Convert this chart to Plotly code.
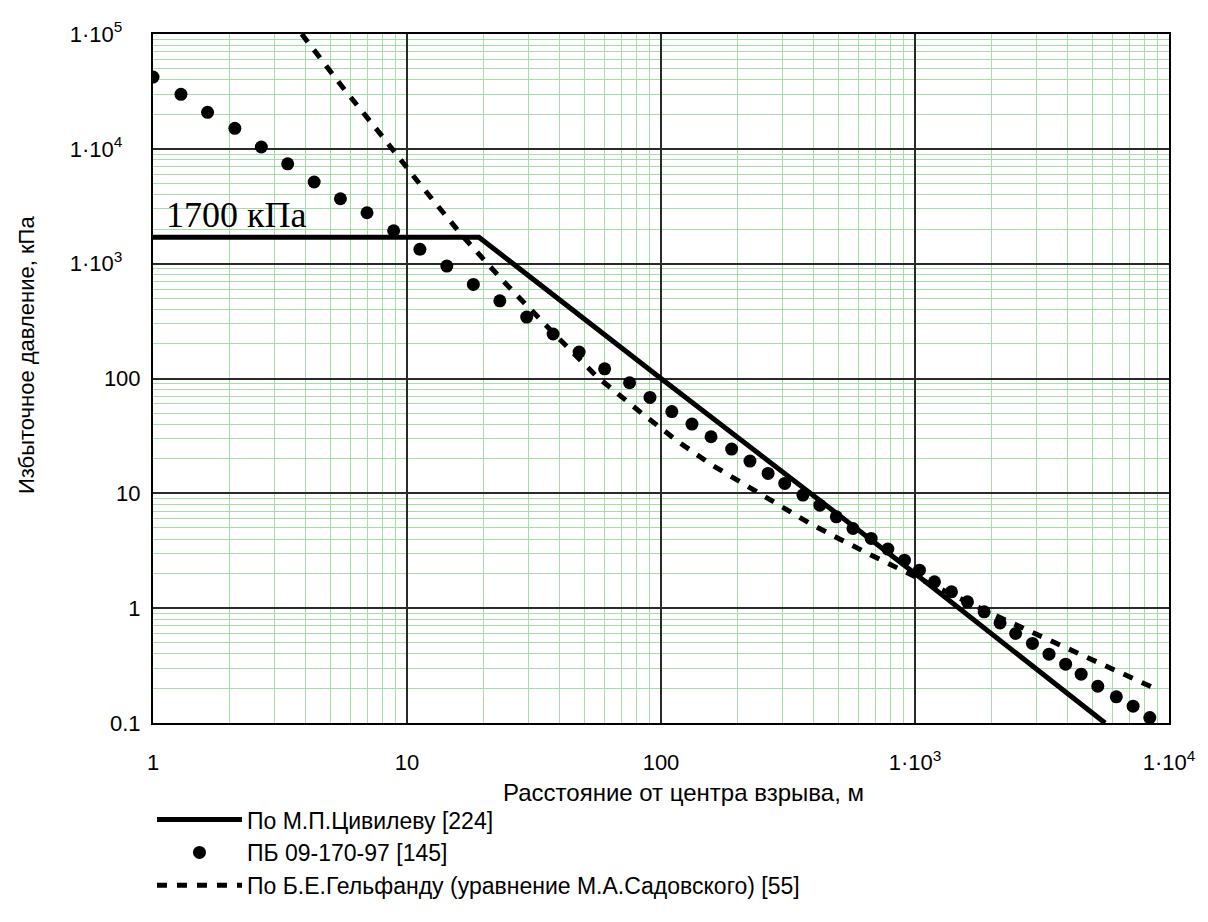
import plotly.graph_objects as go

# ---- data ----
civ_x = [1, 19.2, 100, 1000, 5600]
civ_y = [1700, 1700, 100, 2.0, 0.1]

pb_x = [1.0, 1.288, 1.64, 2.10, 2.67, 3.39, 4.31, 5.47, 6.96, 8.86,
        11.24, 14.35, 18.25, 23.2, 29.6, 37.6, 47.6, 60.0, 75.2, 90.5,
        110.3, 132.4, 157.4, 189.7, 224, 264, 307, 362, 422, 490,
        570, 672, 782, 909, 1041, 1193, 1392, 1609, 1872, 2162,
        2490, 2900, 3370, 3918, 4510, 5244, 6203, 7223, 8402]
pb_y = [42200, 29850, 20800, 15100, 10370, 7410, 5140, 3675, 2775, 1935,
        1333, 953, 660, 475, 343, 244, 170, 121.5, 91.8, 68.4,
        51.5, 40.1, 31.1, 24.3, 19.1, 14.9, 12.2, 9.65, 7.89, 6.24,
        4.94, 4.05, 3.27, 2.62, 2.14, 1.695, 1.387, 1.135, 0.929, 0.744,
        0.602, 0.493, 0.3975, 0.325, 0.266, 0.209, 0.169, 0.140, 0.1116]

gel_x = [3.85, 5.58, 8.02, 11.17, 16.29, 24.08, 37.3, 56.0, 84.1, 117.1,
         157.4, 212.7, 284.9, 385.2, 515.8, 693, 1931, 3125, 4909, 9112]
gel_y = [100000, 34350, 12740, 5010, 1811, 695, 255, 103.5, 49.7, 28.1,
         17.85, 11.96, 8.17, 5.47, 3.91, 2.80, 0.929, 0.570, 0.357, 0.193]

x_tickvals = [1, 10, 100, 1000, 10000]
x_ticktext = ["1", "10", "100", "1·10<sup>3</sup>", "1·10<sup>4</sup>"]
y_tickvals = [0.1, 1, 10, 100, 1000, 10000, 100000]
y_ticktext = ["0.1", "1", "10", "100",
              "1·10<sup>3</sup>\u00a0\u00a0\u00a0", "1·10<sup>4</sup>\u00a0\u00a0\u00a0",
              "1·10<sup>5</sup>\u00a0\u00a0\u00a0"]

names = ["По М.П.Цивилеву [224]",
         "ПБ 09-170-97 [145]",
         "По Б.Е.Гельфанду (уравнение М.А.Садовского) [55]"]

x_minor = [k * 10 ** e for e in range(0, 4) for k in range(2, 10)]
y_minor = [k * 10.0 ** e for e in range(-1, 5) for k in range(2, 10)]

FONT = "Liberation Sans, Arial, sans-serif"
GREEN = "#a6dca6"

fig = go.Figure()
fig.add_trace(go.Scatter(x=civ_x, y=civ_y, mode="lines", name=names[0],
                         line=dict(color="black", width=5)))
fig.add_trace(go.Scatter(x=pb_x, y=pb_y, mode="markers", name=names[1],
                         marker=dict(color="black", size=13)))
fig.add_trace(go.Scatter(x=gel_x, y=gel_y, mode="lines", name=names[2],
                         line=dict(color="black", width=5, dash="10px,10px")))

axis_common = dict(
    type="log", showline=True, mirror=True, linecolor="black", linewidth=2,
    showgrid=True, gridcolor="#2a2a2a", gridwidth=1.5, ticks="",
    tickfont=dict(family=FONT, size=22, color="black"), zeroline=False,
)

fig.update_xaxes(range=[0, 4], tickmode="array", tickvals=x_tickvals, ticktext=x_ticktext,
                 minor=dict(tickmode="array", tickvals=x_minor, showgrid=True,
                            gridcolor=GREEN, gridwidth=1, ticks=""),
                 ticklabelstandoff=19, **axis_common)
fig.update_yaxes(range=[-1, 5], tickmode="array", tickvals=y_tickvals, ticktext=y_ticktext,
                 minor=dict(tickmode="array", tickvals=y_minor, showgrid=True,
                            gridcolor=GREEN, gridwidth=1, ticks=""),
                 ticklabelstandoff=6, **axis_common)

fig.update_layout(
    width=1208, height=922,
    margin=dict(l=153, r=36, t=34, b=199),
    paper_bgcolor="white", plot_bgcolor="white",
    font=dict(family=FONT, size=22, color="black"),
    showlegend=True,
    legend=dict(x=-0.001, y=-0.109, xanchor="left", yanchor="top",
                font=dict(family=FONT, size=23, color="black"),
                bgcolor="rgba(0,0,0,0)", itemwidth=85, tracegroupgap=0),
    annotations=[
        dict(text="Расстояние от центра взрыва, м", xref="paper", yref="paper",
             x=0.522, y=-0.101, xanchor="center", yanchor="middle", showarrow=False,
             font=dict(family=FONT, size=24, color="black")),
        dict(text="Избыточное давление, кПа", xref="paper", yref="paper",
             x=-0.125, y=0.534, xanchor="center", yanchor="middle", showarrow=False,
             textangle=-90, font=dict(family=FONT, size=22, color="black")),
        dict(text="1700 кПа", xref="x", yref="y", x=0.045, y=3.42,
             xanchor="left", yanchor="middle", showarrow=False,
             font=dict(family="Liberation Serif, Times New Roman, serif", size=36, color="black")),
    ],
)

fig.write_html("out.html", config={"displayModeBar": False},
               post_script="document.body.style.margin='0';document.body.style.overflow='hidden';")
